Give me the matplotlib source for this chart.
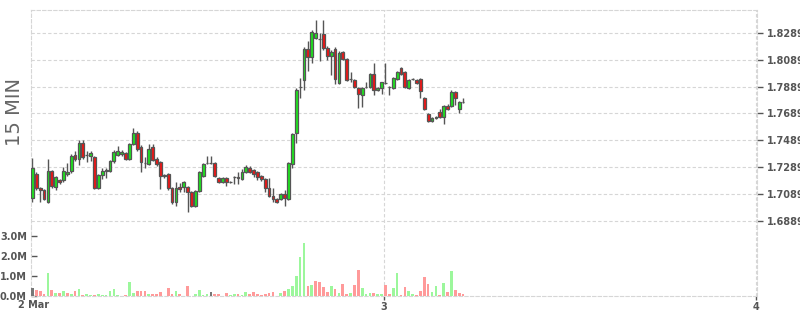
import matplotlib
matplotlib.use("Agg")
import matplotlib.pyplot as plt
import matplotlib.dates as mdates
import numpy as np
import pandas as pd

# 15 minute candles, 2 Mar 01:15 onwards
opens = [1.7058, 1.7237, 1.7129, 1.7118, 1.7028, 1.7259, 1.7140, 1.7192, 1.7192, 1.7237,
         1.7259, 1.7379, 1.7349, 1.7468, 1.7375, 1.7371, 1.7364, 1.7133, 1.7230, 1.7259,
         1.7259, 1.7334, 1.7379, 1.7386, 1.7394, 1.7349, 1.7461, 1.7543, 1.7438, 1.7319,
         1.7312, 1.7438, 1.7349, 1.7326, 1.7222, 1.7237, 1.7133, 1.7028, 1.7140, 1.7140,
         1.7140, 1.7103, 1.6998, 1.7110, 1.7222, 1.7319, 1.7319, 1.7319, 1.7207, 1.7178,
         1.7207, 1.7180, 1.7215, 1.7215, 1.7200, 1.7252, 1.7284, 1.7267, 1.7252, 1.7222,
         1.7200, 1.7133, 1.7073, 1.7050, 1.7050, 1.7088, 1.7050, 1.7312, 1.7543, 1.7886,
         1.7938, 1.8170, 1.8110, 1.8252, 1.8244, 1.8281, 1.8177, 1.8117, 1.8170, 1.7916,
         1.8147, 1.8095, 1.7946, 1.7938, 1.7879, 1.7826, 1.7886, 1.7886, 1.7983, 1.7864,
         1.7879, 1.7914, 1.7886, 1.7879, 1.7946, 1.8028, 1.7998, 1.7879, 1.7946, 1.7938,
         1.7946, 1.7804, 1.7685, 1.7632, 1.7655, 1.7699, 1.7662, 1.7744, 1.7744, 1.7849,
         1.7722, 1.7771]
highs = [1.7356, 1.7252, 1.7140, 1.7125, 1.7349, 1.7267, 1.7222, 1.7200, 1.7289, 1.7319,
         1.7386, 1.7408, 1.7491, 1.7491, 1.7408, 1.7408, 1.7371, 1.7237, 1.7282, 1.7282,
         1.7341, 1.7416, 1.7446, 1.7416, 1.7401, 1.7468, 1.7580, 1.7558, 1.7453, 1.7364,
         1.7461, 1.7461, 1.7364, 1.7334, 1.7237, 1.7244, 1.7140, 1.7178, 1.7170, 1.7185,
         1.7148, 1.7110, 1.7118, 1.7259, 1.7319, 1.7371, 1.7371, 1.7326, 1.7215, 1.7215,
         1.7215, 1.7185, 1.7222, 1.7252, 1.7274, 1.7304, 1.7297, 1.7274, 1.7259, 1.7230,
         1.7207, 1.7207, 1.7133, 1.7058, 1.7095, 1.7118, 1.7326, 1.7543, 1.7879, 1.7953,
         1.8184, 1.8229, 1.8311, 1.8386, 1.8289, 1.8386, 1.8192, 1.8162, 1.8184, 1.8155,
         1.8155, 1.8102, 1.7998, 1.7946, 1.7886, 1.7886, 1.7923, 1.7990, 1.8065, 1.7886,
         1.7923, 1.8065, 1.7894, 1.7961, 1.8005, 1.8035, 1.8005, 1.7946, 1.7953, 1.7946,
         1.7953, 1.7811, 1.7692, 1.7662, 1.7670, 1.7722, 1.7752, 1.7759, 1.7864, 1.7856,
         1.7782, 1.7804]
lows = [1.7028, 1.7118, 1.7028, 1.7043, 1.7020, 1.7133, 1.7118, 1.7163, 1.7178, 1.7222,
        1.7244, 1.7334, 1.7304, 1.7349, 1.7326, 1.7334, 1.7125, 1.7125, 1.7200, 1.7207,
        1.7252, 1.7319, 1.7371, 1.7371, 1.7341, 1.7341, 1.7453, 1.7408, 1.7252, 1.7282,
        1.7304, 1.7334, 1.7297, 1.7125, 1.7207, 1.7118, 1.7013, 1.6998, 1.7103, 1.7103,
        1.6953, 1.6991, 1.6991, 1.7103, 1.7215, 1.7312, 1.7312, 1.7215, 1.7170, 1.7170,
        1.7148, 1.7170, 1.7163, 1.7163, 1.7192, 1.7244, 1.7244, 1.7215, 1.7192, 1.7185,
        1.7103, 1.7065, 1.7028, 1.7020, 1.7043, 1.6998, 1.7043, 1.7282, 1.7468, 1.7804,
        1.7864, 1.8005, 1.8065, 1.8244, 1.8080, 1.8162, 1.8087, 1.7976, 1.7908, 1.7908,
        1.8087, 1.7931, 1.7923, 1.7879, 1.7729, 1.7737, 1.7879, 1.7879, 1.7826, 1.7856,
        1.7834, 1.7908, 1.7826, 1.7871, 1.7938, 1.7976, 1.7879, 1.7871, 1.7938, 1.7908,
        1.7804, 1.7715, 1.7625, 1.7625, 1.7647, 1.7655, 1.7610, 1.7715, 1.7737, 1.7752,
        1.7692, 1.7767]
closes = [1.7282, 1.7133, 1.7118, 1.7050, 1.7259, 1.7148, 1.7215, 1.7178, 1.7259, 1.7252,
          1.7371, 1.7349, 1.7468, 1.7364, 1.7379, 1.7394, 1.7133, 1.7230, 1.7259, 1.7263,
          1.7334, 1.7401, 1.7408, 1.7401, 1.7349, 1.7461, 1.7543, 1.7423, 1.7326, 1.7319,
          1.7423, 1.7341, 1.7312, 1.7222, 1.7233, 1.7133, 1.7028, 1.7133, 1.7125, 1.7178,
          1.7103, 1.6998, 1.7110, 1.7252, 1.7312, 1.7319, 1.7319, 1.7222, 1.7178, 1.7207,
          1.7178, 1.7180, 1.7215, 1.7207, 1.7252, 1.7289, 1.7254, 1.7237, 1.7215, 1.7200,
          1.7133, 1.7073, 1.7050, 1.7028, 1.7088, 1.7058, 1.7319, 1.7535, 1.7864, 1.7886,
          1.8170, 1.8110, 1.8296, 1.8289, 1.8244, 1.8177, 1.8117, 1.8147, 1.7946, 1.8140,
          1.8095, 1.7938, 1.7946, 1.7886, 1.7834, 1.7879, 1.7886, 1.7983, 1.7864, 1.7879,
          1.7920, 1.7914, 1.7886, 1.7953, 1.7998, 1.7983, 1.7886, 1.7938, 1.7946, 1.7916,
          1.7856, 1.7722, 1.7632, 1.7655, 1.7662, 1.7659, 1.7744, 1.7722, 1.7849, 1.7804,
          1.7774, 1.7771]
# volume in millions
volumes = [0.38, 0.30, 0.25, 0.10, 1.17, 0.30, 0.15, 0.15, 0.25, 0.15,
           0.10, 0.25, 0.35, 0.05, 0.10, 0.05, 0.05, 0.10, 0.05, 0.05,
           0.25, 0.35, 0.05, 0.02, 0.05, 0.70, 0.15, 0.25, 0.25, 0.25,
           0.10, 0.10, 0.10, 0.20, 0.02, 0.40, 0.10, 0.25, 0.10, 0.02,
           0.50, 0.02, 0.10, 0.30, 0.05, 0.10, 0.20, 0.10, 0.10, 0.02,
           0.15, 0.05, 0.10, 0.10, 0.05, 0.20, 0.10, 0.20, 0.10, 0.05,
           0.10, 0.15, 0.20, 0.02, 0.15, 0.25, 0.35, 0.50, 1.00, 1.95,
           2.65, 0.50, 0.55, 0.75, 0.70, 0.45, 0.20, 0.50, 0.35, 0.15,
           0.60, 0.10, 0.15, 0.55, 1.30, 0.40, 0.10, 0.15, 0.15, 0.10,
           0.10, 0.55, 0.10, 0.40, 1.15, 0.05, 0.45, 0.25, 0.10, 0.05,
           0.25, 0.95, 0.60, 0.20, 0.50, 0.05, 0.65, 0.20, 1.25, 0.30,
           0.15, 0.10]

price_ticks = [1.6889, 1.7089, 1.7289, 1.7489, 1.7689, 1.7889, 1.8089, 1.8289]
vol_ticks = [0, 1, 2, 3]

opens = np.array(opens)
highs = np.array(highs)
lows = np.array(lows)
closes = np.array(closes)
volumes = np.array(volumes) * 1e6

GRID = '#d6d6d6'
TXT = '#555555'
EDGE = '#555555'

step = 15 / 1440.0
times = pd.date_range('2024-03-02 01:15', periods=len(opens), freq='15min')
x = mdates.date2num(times.to_pydatetime()) + step / 2

fills = np.where(closes >= opens, '#1ee61e', '#f01414')
# volume colour follows the close against the previous close
vol_colors = ['#777777']
for i in range(1, len(closes)):
    if closes[i] > closes[i - 1]:
        vol_colors.append('#9cf79c')
    elif closes[i] < closes[i - 1]:
        vol_colors.append('#ff9a9a')
    else:
        vol_colors.append('#777777')

plt.rcParams['font.family'] = 'DejaVu Sans'
fig = plt.figure(figsize=(8, 3.15), dpi=100)
ax_p = fig.add_axes([31 / 800, 1 - 228 / 315, 726 / 800, 218 / 315])
ax_v = fig.add_axes([31 / 800, 1 - 296 / 315, 726 / 800, 68 / 315], sharex=ax_p)

xmin = mdates.date2num(pd.Timestamp('2024-03-02 01:17'))
xmax = mdates.date2num(pd.Timestamp('2024-03-04 00:04'))
day_ticks = mdates.date2num([pd.Timestamp('2024-03-03'), pd.Timestamp('2024-03-04')])

# candles
ax_p.vlines(x, lows, highs, color=EDGE, linewidth=1.0, zorder=2)
ax_p.bar(x, closes - opens, bottom=opens, width=step * 0.72, color=fills,
         edgecolor=EDGE, linewidth=0.9, zorder=3)
ax_p.set_xlim(xmin, xmax)
ax_p.set_ylim(1.6834, 1.8460)
ax_p.set_yticks(price_ticks)
ax_p.set_yticklabels([f"{t:.4f}" for t in price_ticks])
ax_p.yaxis.tick_right()
ax_p.tick_params(axis='y', direction='out', length=4, width=1, color=TXT,
                 labelsize=7, labelcolor=TXT, pad=3)
ax_p.set_xticks(day_ticks)
ax_p.tick_params(axis='x', length=0, labelbottom=False)
ax_p.grid(True, color=GRID, linestyle=(0, (3, 2)), linewidth=0.8)
for lbl in ax_p.get_yticklabels():
    lbl.set_fontweight('bold')

# volume
ax_v.bar(x, volumes, width=step * 0.7, color=vol_colors, zorder=3)
ax_v.set_ylim(0, 3.4e6)
ax_v.set_yticks([v * 1e6 for v in vol_ticks])
ax_v.set_yticklabels([f"{v:.1f}M" for v in vol_ticks])
ax_v.tick_params(axis='y', direction='in', length=4, width=1, color=TXT,
                 labelsize=7, labelcolor=TXT, pad=3)
ax_v.set_xticks(day_ticks)
ax_v.set_xticklabels(['3', '4'])
ax_v.tick_params(axis='x', direction='out', length=3, width=1, color=TXT,
                 labelsize=7, labelcolor=TXT, pad=1)
ax_v.grid(True, axis='x', color=GRID, linestyle=(0, (3, 2)), linewidth=0.8)
for lbl in ax_v.get_yticklabels() + ax_v.get_xticklabels():
    lbl.set_fontweight('bold')

for ax, hide in ((ax_p, 'bottom'), (ax_v, 'top')):
    for name, sp in ax.spines.items():
        if name == hide:
            sp.set_visible(False)
        else:
            sp.set_color(GRID)
            sp.set_linestyle((0, (3, 2)))
            sp.set_linewidth(0.8)

fig.text(34 / 800, 1 - 305 / 315, '2 Mar', ha='center', va='center',
         fontsize=7, fontweight='bold', color=TXT)
fig.text(15 / 800, 1 - 112 / 315, '15 MIN', rotation=90, ha='center', va='center',
         fontsize=14, color='#666666')

fig.savefig('out.png', dpi=100)
